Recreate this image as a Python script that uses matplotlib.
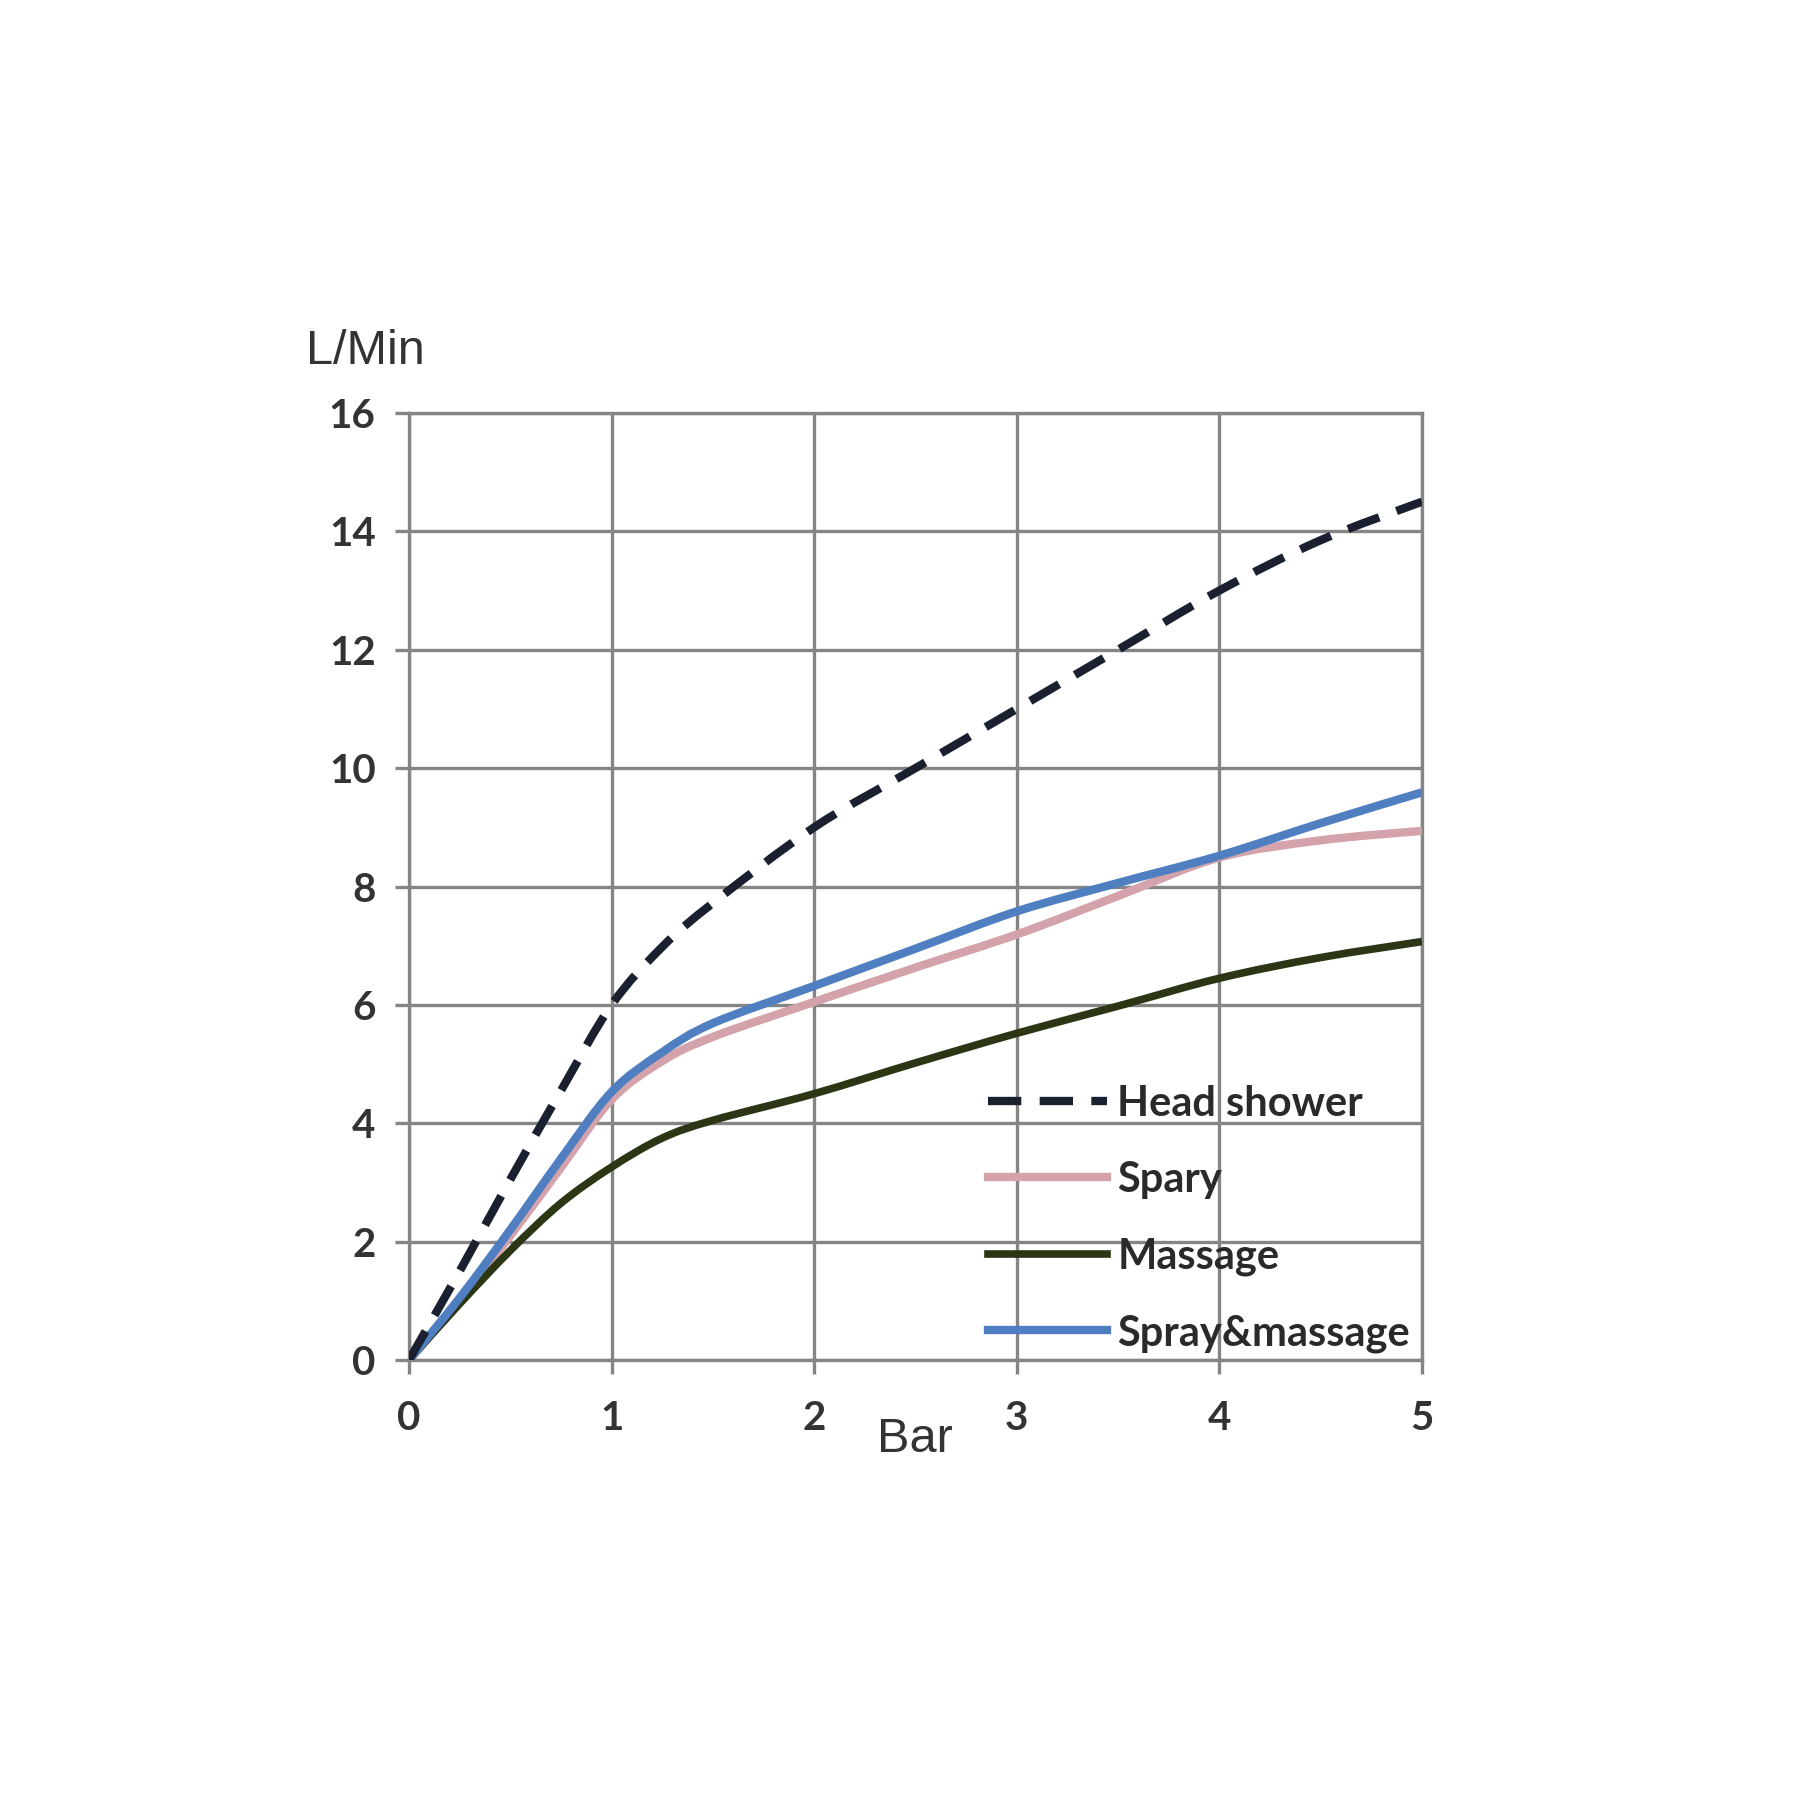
import matplotlib
matplotlib.use("Agg")
import matplotlib.pyplot as plt
from matplotlib.path import Path
from matplotlib.patches import PathPatch
from matplotlib.lines import Line2D

# ---- data ----
pressure_bar = [0, 0.25, 0.5, 0.75, 1, 1.25, 1.5, 2, 2.5, 3, 3.5, 4, 4.5, 5]
head_shower = [0, 1.5, 3.05, 4.55, 6.0, 6.98, 7.72, 9.0, 10.0, 11.0, 12.0, 13.0, 13.85, 14.5]
spary = [0, 1.0, 2.1, 3.25, 4.4, 5.05, 5.46, 6.05, 6.63, 7.19, 7.84, 8.49, 8.78, 8.94]
massage = [0, 0.95, 1.85, 2.65, 3.26, 3.75, 4.05, 4.5, 5.02, 5.52, 5.98, 6.45, 6.8, 7.07]
spray_massage = [0, 1.05, 2.2, 3.4, 4.53, 5.2, 5.69, 6.32, 6.95, 7.58, 8.06, 8.52, 9.07, 9.59]

series_labels = ["Head shower", "Spary", "Massage", "Spray&massage"]
x_ticks = [0, 1, 2, 3, 4, 5]
y_ticks = [0, 2, 4, 6, 8, 10, 12, 14, 16]
x_label = "Bar"
y_label = "L/Min"


def smooth_path(xs, ys):
    """Excel-like smoothed line through the data points (Catmull-Rom -> cubic Bezier)."""
    pts = list(zip(xs, ys))
    n = len(pts)
    verts = [pts[0]]
    codes = [Path.MOVETO]
    for i in range(n - 1):
        p0 = pts[i - 1] if i > 0 else pts[i]
        p1 = pts[i]
        p2 = pts[i + 1]
        p3 = pts[i + 2] if i + 2 < n else pts[i + 1]
        c1 = (p1[0] + (p2[0] - p0[0]) / 6, p1[1] + (p2[1] - p0[1]) / 6)
        c2 = (p2[0] - (p3[0] - p1[0]) / 6, p2[1] - (p3[1] - p1[1]) / 6)
        verts += [c1, c2, p2]
        codes += [Path.CURVE4] * 3
    return Path(verts, codes)


fig = plt.figure(figsize=(18, 18), dpi=100)
fig.patch.set_facecolor("white")
ax = fig.add_axes([0.2272, 0.2444, 0.5628, 0.5262])

grid_c = "#858585"
ax.set_xlim(0, 5)
ax.set_ylim(0, 16)
ax.set_xticks(x_ticks)
ax.set_yticks(y_ticks)
ax.grid(True, color=grid_c, linewidth=2.4, zorder=0)
for s in ax.spines.values():
    s.set_color(grid_c)
    s.set_linewidth(2.4)
ax.tick_params(axis="both", length=10, width=2.4, color=grid_c,
               labelsize=29, labelcolor="#333333")
ax.tick_params(axis="x", pad=19)
ax.tick_params(axis="y", pad=14)
for lab in ax.get_xticklabels() + ax.get_yticklabels():
    lab.set_fontweight("bold")
    lab.set_family(["Lato", "DejaVu Sans"])

dash_pattern = [4, 2.2]
styles = [
    dict(color="#1b2030", lw=6.0, dashed=True, z=5),
    dict(color="#d3a2aa", lw=6.0, dashed=False, z=3),
    dict(color="#2b3615", lw=5.5, dashed=False, z=3),
    dict(color="#4f7fc0", lw=6.0, dashed=False, z=4),
]
series = [head_shower, spary, massage, spray_massage]
handles = []
for ys, st, lab in zip(series, styles, series_labels):
    patch = PathPatch(smooth_path(pressure_bar, ys), fill=False, edgecolor=st["color"],
                      linewidth=st["lw"], zorder=st["z"], capstyle="butt")
    if st["dashed"]:
        patch.set_linestyle((0, dash_pattern))
    ax.add_patch(patch)
    h = Line2D([], [], color=st["color"], linewidth=st["lw"], label=lab)
    if st["dashed"]:
        h.set_dashes(dash_pattern)
    handles.append(h)

leg = ax.legend(handles=handles, loc="lower left", bbox_to_anchor=(0.551, -0.014),
                frameon=False, borderpad=0, handlelength=2.85, handletextpad=0.25,
                labelspacing=0.92,
                prop={"weight": "bold", "size": 30, "family": ["Lato", "DejaVu Sans"]})
for t in leg.get_texts():
    t.set_color("#2a2a2a")

narrow = ["Liberation Sans Narrow", "Liberation Sans", "DejaVu Sans"]
fig.text(365 / 1800, 1 - 352 / 1800, y_label, ha="center", va="center",
         fontsize=35, color="#333333", family=narrow)
fig.text(915 / 1800, 1 - 1440 / 1800, x_label, ha="center", va="center",
         fontsize=35, color="#333333", family=narrow)

fig.savefig("out.png", dpi=100, facecolor="white")
